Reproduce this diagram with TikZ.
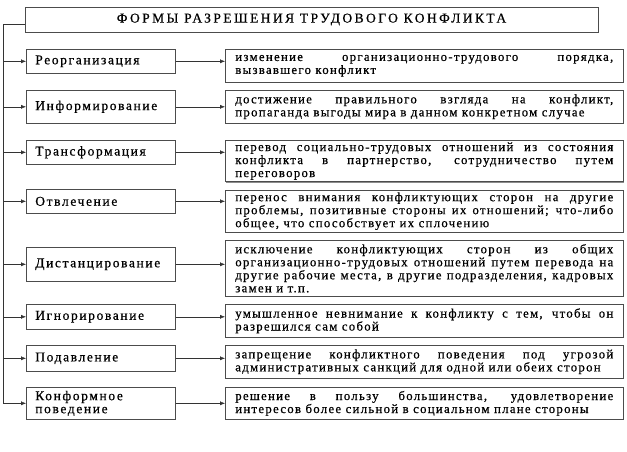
\documentclass[tikz,border=0pt]{standalone}
\usepackage{fontspec}
\setmainfont{Liberation Serif}
\newfontfamily\headfont{Liberation Serif}[LetterSpace=18, FakeBold=0.6]
\newfontfamily\formfont{Liberation Serif}[LetterSpace=12, FakeBold=0.6]
\newfontfamily\descfont{Liberation Serif}[LetterSpace=10, FakeBold=0.6]
\usetikzlibrary{arrows.meta, positioning, shadows}
\hbadness=10000
\tolerance=9999

\begin{document}
\begin{tikzpicture}[
    x=1pt, y=-1pt,
    boxshade/.style={draw=black!70, semithick, fill=white, drop shadow={shadow xshift=0.8pt, shadow yshift=-0.8pt, fill=black!45, opacity=1}},
    headbox/.style={rectangle, boxshade, minimum width=573pt, minimum height=25pt, font=\headfont\fontsize{13.5}{14}\selectfont},
    formbox/.style={rectangle, boxshade, anchor=north west, text width=131pt, inner xsep=9pt, inner ysep=2pt, align=left, minimum height=24pt, font=\formfont\fontsize{13.5}{13}\selectfont},
    descbox/.style={rectangle, boxshade, anchor=north west, text width=378pt, inner xsep=10pt, inner ysep=2pt, align=justify, font=\descfont\fontsize{12.8}{13}\selectfont},
    link/.style={-{Latex[length=5pt,width=4pt]}, black!80}
]
    \useasboundingbox (0,0) rectangle (627,451);
    % header
    \node[headbox] (head) at (311.5,19.5) {ФОРМЫ РАЗРЕШЕНИЯ ТРУДОВОГО КОНФЛИКТА};
    % forms
    \node[formbox] (f1) at (26,49) {Реорганизация};
    \node[formbox, minimum height=33pt] (f2) at (26,90) {Информирование};
    \node[formbox] (f3) at (26,140) {Трансформация};
    \node[formbox] (f4) at (26,189) {Отвлечение};
    \node[formbox, minimum height=34pt] (f5) at (26,247) {Дистанцирование};
    \node[formbox, minimum height=25pt] (f6) at (26,304) {Игнорирование};
    \node[formbox, minimum height=26pt] (f7) at (26,345) {Подавление};
    \node[formbox, minimum height=32pt] (f8) at (26,387) {Конформное\\поведение};
    % descriptions
    \node[descbox, minimum height=33pt] (d1) at (225,49) {изменение организационно-трудового порядка,\linebreak вызвавшего конфликт};
    \node[descbox, minimum height=33pt] (d2) at (225,90) {достижение правильного взгляда на конфликт,\linebreak пропаганда выгоды мира в данном конкретном случае};
    \node[descbox, minimum height=40pt] (d3) at (225,140) {перевод социально-трудовых отношений из состояния\linebreak конфликта в партнерство, сотрудничество путем\linebreak переговоров};
    \node[descbox, minimum height=40pt] (d4) at (225,190) {перенос внимания конфликтующих сторон на другие\linebreak проблемы, позитивные стороны их отношений; что-либо\linebreak общее, что способствует их сплочению};
    \node[descbox, minimum height=56pt] (d5) at (225,240) {исключение конфликтующих сторон из общих\linebreak организационно-трудовых отношений путем перевода на\linebreak другие рабочие места, в другие подразделения, кадровых\linebreak замен и т.п.};
    \node[descbox, minimum height=33pt] (d6) at (225,304) {умышленное невнимание к конфликту с тем, чтобы он\linebreak разрешился сам собой};
    \node[descbox, minimum height=33pt] (d7) at (225,345) {запрещение конфликтного поведения под угрозой\linebreak административных санкций для одной или обеих сторон};
    \node[descbox, minimum height=32pt] (d8) at (225,387) {решение в пользу большинства, удовлетворение\linebreak интересов более сильной в социальном плане стороны};
    % trunk
    \coordinate (trunk) at (3,0);
    \draw[black!80] ([yshift=-5pt]head.west) -| (trunk |- f8.west);
    \foreach \i in {1,...,8} {
        \draw[link] (trunk |- f\i.west) -- (f\i.west);
        \draw[link] (f\i.east) -- (f\i.east -| d\i.west);
    }
\end{tikzpicture}
\end{document}
